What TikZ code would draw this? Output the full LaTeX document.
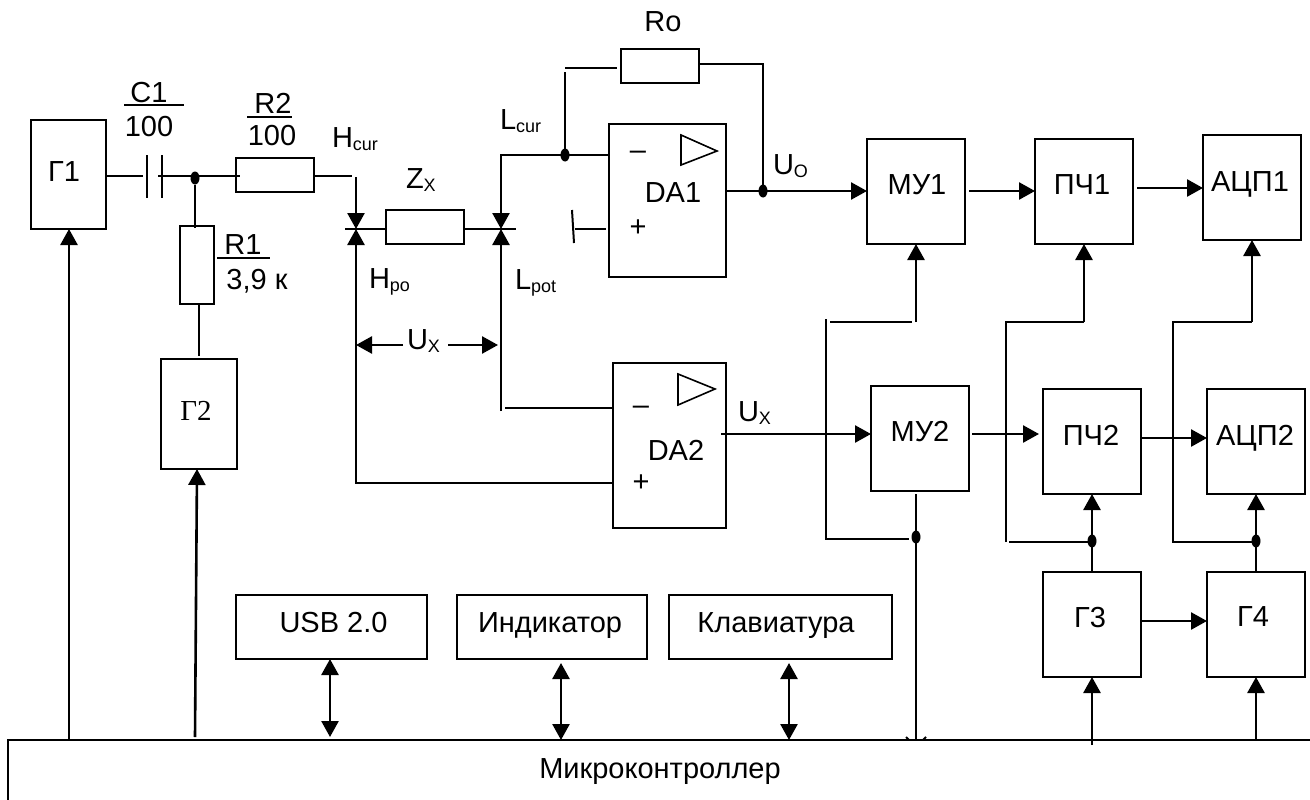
\documentclass[tikz,border=0pt]{standalone}
\usepackage{fontspec}
\setmainfont{Liberation Sans}
\newfontfamily\serifcyr{Liberation Serif}
\usetikzlibrary{arrows.meta, positioning, calc, shapes.geometric}
\newcommand{\lowtext}[1]{\raisebox{-3pt}{\fontsize{18}{18}\selectfont #1}}
\tikzset{
    blockbox/.style={draw, line width=2pt, outer sep=0pt, inner sep=0pt, fill=white},
    caption/.style={inner sep=0pt, outer sep=0pt, text depth=0pt, font=\fontsize{29}{32}\selectfont},
    basetext/.style={caption, anchor=base west},
    wire/.style={line width=2pt},
    sig/.style={line width=2.6pt, -{Triangle[length=16pt,width=17pt]}},
    bisig/.style={line width=2.6pt, {Triangle[length=16pt,width=17pt]}-{Triangle[length=16pt,width=17pt]}},
    junction/.style={ellipse, fill=black, inner sep=0pt, outer sep=0pt, minimum width=9pt, minimum height=13pt}
}

\begin{document}
\begin{tikzpicture}[x=1pt, y=-1pt]
    \useasboundingbox (0, 0) rectangle (1310, 800);
    % blocks
    \node[blockbox, minimum width=75pt, minimum height=109pt] (g1) at (68.5, 174.5) {};
    \node[blockbox, minimum width=76pt, minimum height=110pt] (g2) at (199, 414) {};
    \node[blockbox, minimum width=78pt, minimum height=34pt] (r2) at (275, 175) {};
    \node[blockbox, minimum width=34pt, minimum height=78pt] (r1) at (197, 265) {};
    \node[blockbox, minimum width=78pt, minimum height=34pt] (zx) at (425, 227) {};
    \node[blockbox, minimum width=78pt, minimum height=34pt] (ro) at (660, 66) {};
    \node[blockbox, minimum width=117pt, minimum height=153pt] (da1) at (667.5, 200.5) {};
    \node[blockbox, minimum width=113pt, minimum height=165pt] (da2) at (669, 445.5) {};
    \node[blockbox, minimum width=98pt, minimum height=105pt] (my1) at (916, 191.5) {};
    \node[blockbox, minimum width=98pt, minimum height=105pt] (pch1) at (1084, 191.5) {};
    \node[blockbox, minimum width=98pt, minimum height=105pt] (adc1) at (1252, 187.5) {};
    \node[blockbox, minimum width=98pt, minimum height=105pt] (my2) at (920, 438.5) {};
    \node[blockbox, minimum width=98pt, minimum height=105pt] (pch2) at (1092, 441.5) {};
    \node[blockbox, minimum width=98pt, minimum height=105pt] (adc2) at (1256, 441.5) {};
    \node[blockbox, minimum width=98pt, minimum height=105pt] (g3) at (1092, 624.5) {};
    \node[blockbox, minimum width=98pt, minimum height=105pt] (g4) at (1256, 624.5) {};
    \node[blockbox, minimum width=191pt, minimum height=64pt] (usb) at (331.5, 627) {};
    \node[blockbox, minimum width=190pt, minimum height=64pt] (ind) at (552, 627) {};
    \node[blockbox, minimum width=223pt, minimum height=64pt] (kbd) at (780.5, 627) {};
    \node[blockbox, minimum width=1322pt, minimum height=80pt] (mcu) at (669, 780) {};
    % block texts
    \node[caption] (usbtext) at (333.5, 622.5) {USB 2.0};
    \node[caption] (indtext) at (550, 622.5) {Индикатор};
    \node[caption] (kbdtext) at (776, 622.5) {Клавиатура};
    \node[caption] (g1text) at (64, 172) {Г1};
    \node[caption, font=\fontsize{29}{32}\selectfont\serifcyr] (g2text) at (196, 411) {Г2};
    \node[caption] (g3text) at (1090, 617) {Г3};
    \node[caption] (g4text) at (1253, 617) {Г4};
    \node[caption] (my1text) at (917, 185) {МУ1};
    \node[caption] (pch1text) at (1082, 185) {ПЧ1};
    \node[caption] (adc1text) at (1250, 181.5) {АЦП1};
    \node[caption] (my2text) at (920, 431) {МУ2};
    \node[caption] (pch2text) at (1091, 435) {ПЧ2};
    \node[caption] (adc2text) at (1255, 435) {АЦП2};
    \node[caption] (da1text) at (673, 193) {DA1};
    \node[caption] (da2text) at (676, 450) {DA2};
    \node[caption] (mcutext) at (660, 769) {Микроконтроллер};
    \node[caption] (da1minus) at (638, 155) {--};
    \node[caption] (da1plus) at (638, 228) {+};
    \node[caption] (da2minus) at (641, 410) {--};
    \node[caption] (da2plus) at (641, 483) {+};
    % labels
    \node[caption] (c1name) at (149, 92) {C1};
    \node[caption] (c1val) at (149, 126) {100};
    \node[caption] (r2name) at (273, 103) {R2};
    \node[caption] (r2val) at (272, 135) {100};
    \node[caption] (r1name) at (243, 245) {R1};
    \node[caption] (r1val) at (257, 279) {3,9 к};
    \node[caption] (roname) at (663, 22) {Ro};
    \node[basetext] (hcurtext) at (332, 147) {H\lowtext{cur}};
    \node[basetext] (hpotext) at (369, 288) {H\lowtext{po}};
    \node[basetext] (lcurtext) at (500, 129) {L\lowtext{cur}};
    \node[basetext] (lpottext) at (515, 289) {L\lowtext{pot}};
    \node[basetext] (zxtext) at (406, 188) {Z\lowtext{X}};
    \node[basetext] (uotext) at (773, 174) {U\lowtext{O}};
    \node[basetext] (uxtext) at (738, 421) {U\lowtext{X}};
    \node[basetext] (uxmid) at (407, 349) {U\lowtext{X}};
    % value bars
    \draw[line width=2.8pt] (124, 105) -- (184, 105);
    \draw[line width=2.8pt] (247, 117) -- (292, 117);
    \draw[line width=2.8pt] (217, 258) -- (270, 258);
    % named points
    \coordinate (hnode) at (356, 229);
    \coordinate (lnode) at (501, 229);
    \coordinate (fbnode) at (565, 155);
    \coordinate (onode) at (763, 191);
    % input part
    \draw[wire] (106, 176) -- (143, 176);
    \draw[wire] (147, 155) -- (147, 198);
    \draw[wire] (162, 155) -- (162, 198);
    \draw[wire] (158, 176) -- (240, 176);
    \node[junction] (dotc) at (195, 178) {};
    \draw[wire] (dotc) -- (195, 228);
    \draw[wire] (199, 304) -- (199, 356);
    \draw[wire] (314, 176) -- (352, 176);
    \draw[sig] (356, 177) -- (hnode);
    \draw[wire] (345, 229) -- (386, 229);
    \draw[wire] (464, 229) -- (516, 229);
    \draw[sig] (612.5, 483) -- (356, 483) -- (hnode);
    \draw[sig] (501, 411) -- (lnode);
    \draw[wire] (505, 408) -- (612.5, 408);
    \draw[sig] (609, 155) -- (501, 155) -- (lnode);
    \node[junction] (dotf) at (fbnode) {};
    \draw[wire] (dotf) -- (565, 72);
    \draw[wire] (565, 68) -- (617, 68);
    \draw[wire] (699, 64) -- (763, 64) -- (onode);
    \draw[wire] (572, 210) -- (574, 243);
    \draw[wire] (575, 229) -- (606, 229);
    \draw[line width=1.6pt] (681, 135) -- (717, 151) -- (681, 165) -- cycle;
    \draw[line width=1.6pt] (678, 374) -- (715, 389) -- (678, 405) -- cycle;
    \draw[sig] (403, 345) -- (356, 345);
    \draw[sig] (448, 345) -- (498, 345);
    % signal chain
    \draw[sig] (726, 191) -- (867, 191);
    \node[junction] (doto) at (onode) {};
    \draw[sig] (969, 191) -- (1035, 191);
    \draw[sig] (1137, 188) -- (1203, 188);
    \draw[sig] (721, 434) -- (871, 434);
    \draw[sig] (972, 434) -- (1039, 434);
    \draw[sig] (1141, 438) -- (1207, 438);
    \draw[sig] (g3.east |- 0, 621) -- (g4.west |- 0, 621);
    % control lines
    \draw[wire] (826, 319) -- (826, 539) -- (909, 539);
    \draw[wire] (830, 322) -- (912, 322);
    \draw[sig] (916, 322) -- (my1.south);
    \draw[wire] (1006, 542) -- (1006, 322) -- (1084, 322);
    \draw[sig] (1084, 322) -- (pch1.south);
    \draw[wire] (1256, 542) -- (1173, 542) -- (1173, 322) -- (1252, 322);
    \draw[sig] (1252, 322) -- (adc1.south);
    \draw[wire] (1009, 542) -- (1092, 542);
    \draw[sig] (g3.north) -- (pch2.south);
    \draw[sig] (g4.north) -- (adc2.south);
    \node[junction] (dotp) at (1092, 541) {};
    \node[junction] (dota) at (1256, 541) {};
    \node[junction] (dotm) at (916, 537) {};
    \draw[line width=2.6pt] (916, 494) -- (916, 740);
    \draw[wire] (906, 737) -- (909, 740);
    \draw[wire] (926, 737) -- (923, 740);
    % microcontroller links
    \draw[sig] (69, 740) -- (69, 229);
    \draw[sig] (195, 737) -- (197, 469);
    \draw[bisig] (330, 737) -- (330, 659);
    \draw[bisig] (561, 740) -- (561, 663);
    \draw[bisig] (789, 740) -- (789, 663);
    \draw[sig] (1092, 745) -- (g3.south);
    \draw[sig] (1256, 740) -- (g4.south);
\end{tikzpicture}
\end{document}
